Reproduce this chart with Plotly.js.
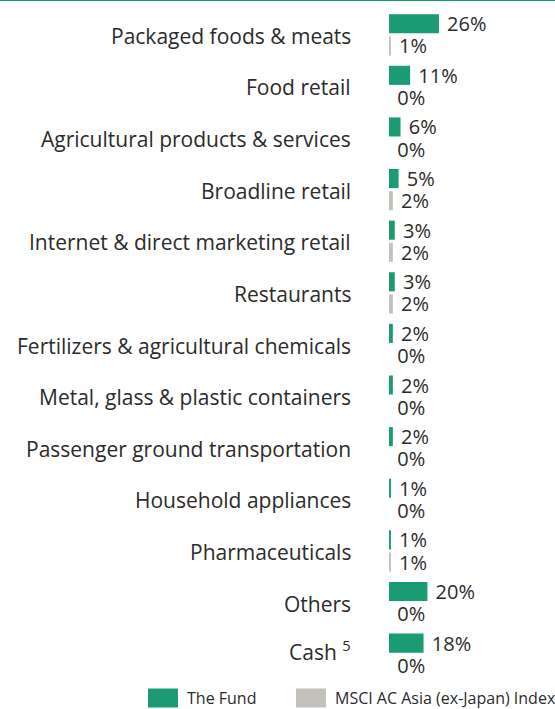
<!DOCTYPE html>
<html>
<head>
<meta charset="utf-8">
<script src="https://cdn.plot.ly/plotly-3.0.1.min.js"></script>
<style>
html,body{margin:0;padding:0;background:#fff;}
#chart{width:555px;height:709px;}
#topline{position:absolute;left:0;top:0;width:555px;height:1px;background:#1a9b74;z-index:10;}
</style>
</head>
<body>
<div id="topline"></div>
<div id="chart"></div>
<script>
const categories = [
  "Packaged foods & meats",
  "Food retail",
  "Agricultural products & services",
  "Broadline retail",
  "Internet & direct marketing retail",
  "Restaurants",
  "Fertilizers & agricultural chemicals",
  "Metal, glass & plastic containers",
  "Passenger ground transportation",
  "Household appliances",
  "Pharmaceuticals",
  "Others",
  "Cash <sup>5</sup>"
];
const fundValues  = [26, 11, 6, 5, 3, 3, 2, 2, 2, 1, 1, 20, 18];
const indexValues = [1, 0, 0, 2, 2, 2, 0, 0, 0, 0, 1, 0, 0];
const seriesNames = ["The Fund", "MSCI AC Asia (ex-Japan) Index"];
const colors = ["#1a9b74", "#c4c1bc"];

const W = 555, H = 709;
const mL = 389, mR = 0, mT = 9, mB = 29;
const plotW = W - mL - mR, plotH = H - mT - mB;
const px2x = p => (p - mL) / plotW;
const py2y = p => (H - mB - p) / plotH;

const fmt = v => "\u00a0" + v + "%";
const FONT = "Open Sans, sans-serif";
const INK = "#2b2b2b";
const textFont = {family: FONT, size: 20, color: INK};

const traces = [
  {type: "bar", orientation: "h", name: seriesNames[0], y: categories, x: fundValues,
   marker: {color: colors[0]}, text: fundValues.map(fmt), textposition: "outside",
   constraintext: "none", textfont: textFont, cliponaxis: false, hoverinfo: "none"},
  {type: "bar", orientation: "h", name: seriesNames[1], y: categories, x: indexValues,
   marker: {color: colors[1]}, text: indexValues.map(fmt), textposition: "outside",
   constraintext: "none", textfont: textFont, cliponaxis: false, hoverinfo: "none"}
];

// category labels placed on the category axis
const catLabels = categories.map(c => ({
  xref: "paper", yref: "y", x: px2x(353), y: c,
  xanchor: "right", yanchor: "middle", yshift: c.includes("<sup>") ? 4 : -1,
  showarrow: false, text: c,
  font: {family: FONT, size: 21, color: INK}
}));

// custom legend
const legY = 698;
const legItems = [
  {x0: 148, x1: 178, tx: 185},
  {x0: 296, x1: 326, tx: 333}
];
const shapes = legItems.map((it, i) => ({
  type: "rect", xref: "paper", yref: "paper",
  x0: px2x(it.x0), x1: px2x(it.x1), y0: py2y(legY + 9.5), y1: py2y(legY - 9.5),
  fillcolor: colors[i], line: {width: 0}
}));
const legLabels = legItems.map((it, i) => ({
  xref: "paper", yref: "paper", x: px2x(it.tx), y: py2y(legY),
  xanchor: "left", yanchor: "middle", showarrow: false, text: seriesNames[i],
  font: {family: FONT, size: 16, color: INK}
}));

const layout = {
  width: W, height: H,
  margin: {l: mL, r: mR, t: mT, b: mB, pad: 0},
  paper_bgcolor: "#fff", plot_bgcolor: "#fff",
  barmode: "group", bargap: 0.14, bargroupgap: 0.14,
  showlegend: false,
  xaxis: {range: [0, plotW / 1.92], visible: false, fixedrange: true},
  yaxis: {type: "category", categoryarray: categories, autorange: "reversed", automargin: false,
          showgrid: false, zeroline: false, showline: false, ticks: "",
          showticklabels: false},
  shapes: shapes,
  annotations: catLabels.concat(legLabels)
};

Plotly.newPlot("chart", traces, layout, {displayModeBar: false, staticPlot: true});
</script>
</body>
</html>
